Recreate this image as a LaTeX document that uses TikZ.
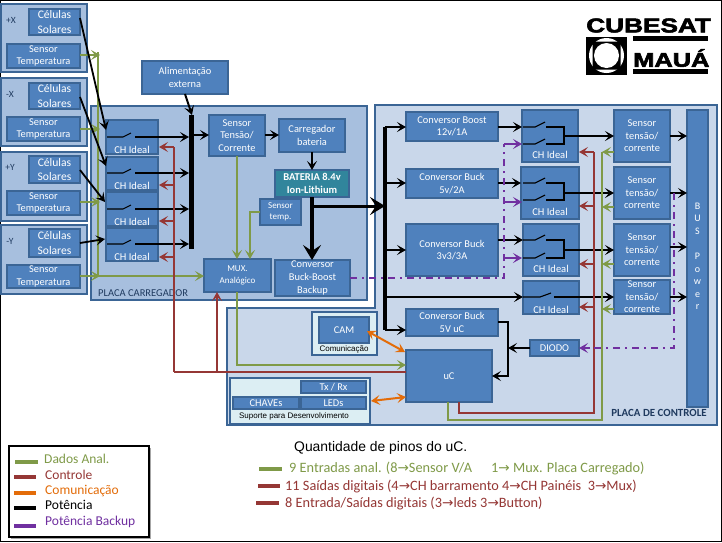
\documentclass[tikz,border=0pt]{standalone}
\usepackage{fontspec}
\setmainfont{Carlito}
\newfontfamily\arialf{Liberation Sans}
\newfontfamily\logof[FakeBold=2.5]{Liberation Sans Bold}
\newfontfamily\arrowf{DejaVu Sans}
\usetikzlibrary{arrows.meta}
\definecolor{boxfill}{HTML}{4F81BD}
\definecolor{boxedge}{HTML}{3B6595}
\definecolor{panelA}{HTML}{A7BFDE}
\definecolor{panelB}{HTML}{C9D7EA}
\definecolor{panelC}{HTML}{DCEEF3}
\definecolor{battfill}{HTML}{31859C}
\definecolor{gdata}{HTML}{7F9A48}
\definecolor{rctl}{HTML}{953735}
\definecolor{ocom}{HTML}{E36C09}
\definecolor{pback}{HTML}{7030A0}
\definecolor{darklab}{HTML}{1F3A5F}
\tikzset{
  pic frame/.style={x=1pt,y=-1pt},
  boxn/.style={draw=boxedge,fill=boxfill,line width=1.3pt,text=white,align=center,inner sep=0pt,outer sep=0pt,font=\fontsize{10.4}{12.6}\selectfont},
  solar/.style={boxn,font=\fontsize{11.6}{14.3}\selectfont},
  smallbox/.style={boxn,font=\fontsize{9}{11.5}\selectfont},
  batt/.style={boxn,fill=battfill,font=\fontsize{10.5}{12.8}\selectfont\bfseries},
  panA/.style={draw=boxedge,fill=panelA,line width=1.2pt},
  panB/.style={draw=boxedge,fill=panelB,line width=1.2pt},
  panC/.style={draw=boxedge,fill=panelC,line width=1.2pt,inner sep=0pt,outer sep=0pt},
  chlab/.style={text=white,inner sep=0pt,font=\fontsize{10.5}{12}\selectfont},
  darktxt/.style={text=darklab,inner sep=0pt},
  tiplab/.style={text=black,inner sep=0pt,font=\arialf\fontsize{8}{9}\selectfont},
  tip/.style={-{Stealth[length=9pt,width=10pt,inset=4pt]}},
  bitip/.style={{Stealth[length=9pt,width=10pt,inset=4pt]}-{Stealth[length=9pt,width=10pt,inset=4pt]}},
  pw/.style={black,line width=1.8pt},
  sw/.style={black,line width=1.1pt},
  gd/.style={gdata,line width=2pt},
  rc/.style={rctl,line width=2pt},
  comline/.style={ocom,line width=2pt},
  bk/.style={pback,line width=2pt,dash pattern=on 7pt off 5pt on 2pt off 5pt},
  legline/.style={line width=4pt},
  legtxt/.style={anchor=west,inner sep=0pt,font=\fontsize{13.5}{14}\selectfont},
  pintxt/.style={anchor=west,inner sep=0pt,font=\fontsize{14.3}{15}\selectfont},
}
% \bx[style]{name}{x1}{y1}{x2}{y2}{text}
\newcommand\bx[6][boxn]{\node[#1,minimum width={(#4-#2)*1pt},minimum height={(#5-#3)*1pt}] (#6) at ({(#2+#4)/2},{(#3+#5)/2})}
\newcommand\arr{{\arrowf\fontsize{13.6}{15}\selectfont →}}
\begin{document}
\begin{tikzpicture}[pic frame]
\useasboundingbox (0,0) rectangle (722,542);
\fill[white] (0,0) rectangle (722,542);
\draw[black,line width=1.3pt] (0.5,0.5) rectangle (721.5,541.5);

% panels
\draw[panA] (1,4) rectangle (87,72);
\draw[panA] (1,78) rectangle (87,146);
\draw[panA] (1,152) rectangle (87,221);
\draw[panA] (1,225) rectangle (87,294);
\draw[panB] (375,105) -- (717,105) -- (717,425) -- (227,425) -- (227,308) -- (375,308) -- cycle;
\draw[panA] (91,106) rectangle (367,300);

% left panel texts
\node[darktxt,font=\fontsize{9.5}{11}\selectfont] (lpx) at (11,20) {+X};
\node[darktxt,font=\fontsize{9.5}{11}\selectfont] (lmx) at (10,94) {-X};
\node[darktxt,font=\fontsize{9.5}{11}\selectfont] (lpy) at (10,167) {+Y};
\node[darktxt,font=\fontsize{9.5}{11}\selectfont] (lmy) at (10,241) {-Y};

% left panel boxes
\bx[solar]{29}{9}{80}{35}{solA} {Células\\Solares};
\bx{7}{44}{80}{68}{tmpA} {Sensor\\Temperatura};
\bx[solar]{29}{83}{80}{109}{solB} {Células\\Solares};
\bx{7}{117}{80}{141}{tmpB} {Sensor\\Temperatura};
\bx[solar]{29}{156}{80}{183}{solC} {Células\\Solares};
\bx{7}{191}{80}{215}{tmpC} {Sensor\\Temperatura};
\bx[solar]{29}{229}{80}{257}{solD} {Células\\Solares};
\bx{7}{265}{80}{288}{tmpD} {Sensor\\Temperatura};

\bx{142}{61}{228}{94}{ext} {Alimentação\\externa};

% charger board
\node[darktxt,anchor=west,font=\fontsize{10.5}{12}\selectfont] (lcarr) at (98,293) {PLACA CARREGADOR};
\bx{106}{120}{158}{154}{chA} {};
\bx{106}{157}{158}{190}{chB} {};
\bx{106}{192}{158}{226}{chC} {};
\bx{106}{228}{158}{261}{chD} {};
\node[chlab] (tchA) at (132,150) {CH Ideal};
\node[chlab] (tchB) at (132,186) {CH Ideal};
\node[chlab] (tchC) at (132,222) {CH Ideal};
\node[chlab] (tchD) at (132,257) {CH Ideal};
\bx{209}{115}{265}{156}{stc} {Sensor\\Tensão/\\Corrente};
\bx{279}{119}{345}{152}{carr} {Carregador\\bateria};
\bx[batt]{275}{170}{349}{197}{bat} {BATERIA 8.4v\\Ion-Lithium};
\bx[smallbox]{260}{199}{301}{225}{stmp} {Sensor\\temp.};
\bx[smallbox]{204}{259}{271}{292}{mux} {MUX.\\Analógico};
\bx{275}{260}{350}{296}{bbb} {Conversor\\Buck-Boost\\Backup};

% control board
\bx{406}{112}{498}{141}{cvA} {Conversor Boost\\12v/1A};
\bx{406}{169}{498}{198}{cvB} {Conversor Buck\\5v/2A};
\bx{406}{224}{498}{276}{cvC} {Conversor Buck\\3v3/3A};
\bx{406}{309}{498}{336}{cvD} {Conversor Buck\\5V uC};
\bx{522}{110}{578}{162}{rchA} {};
\bx{521}{167}{579}{219}{rchB} {};
\bx{523}{224}{579}{276}{rchC} {};
\bx{523}{281}{579}{314}{rchD} {};
\node[chlab] (trchA) at (550,155) {CH Ideal};
\node[chlab] (trchB) at (550,212) {CH Ideal};
\node[chlab] (trchC) at (551,269) {CH Ideal};
\node[chlab] (trchD) at (551,310) {CH Ideal};
\bx{614}{110}{670}{162}{snA} {Sensor\\tensão/\\corrente};
\bx{614}{167}{670}{219}{snB} {Sensor\\tensão/\\corrente};
\bx{614}{224}{670}{276}{snC} {Sensor\\tensão/\\corrente};
\bx{614}{280}{670}{314}{snD} {Sensor\\tensão/\\corrente};
\bx{687}{110}{708}{407}{bus} {};
\node[text=white,align=center,inner sep=0pt,anchor=north,font=\fontsize{10}{12.6}\selectfont] (tbus) at (697.5,202.5) {B\\U\\S\\[12.6pt]P\\o\\w\\e\\r};
\bx{530}{340}{579}{356}{dio} {DIODO};
\bx{406}{350}{492}{402}{uc} {uC};
\draw[panC] (312,312) rectangle (377,355);
\bx{319}{317}{369}{343}{cam} {CAM};
\node[tiplab] (tcom) at (344,349) {Comunicação};
\draw[panC] (230,378) rectangle (370,424);
\bx{301}{381}{366}{393}{txrx} {Tx / Rx};
\bx{233}{397}{299}{409}{chv} {CHAVEs};
\bx{301}{397}{366}{409}{led} {LEDs};
\node[tiplab] (tsup) at (294,416) {Suporte para Desenvolvimento};
\node[darktxt,font=\fontsize{10.9}{12}\selectfont\bfseries] (lctl) at (659,413) {PLACA DE CONTROLE};

% green data left
\draw[gd] (98,52) -- (98,276);
\draw[gd,tip] (tmpA.east |- 0,55) -- (100,55);
\draw[gd,tip] (tmpB.east |- 0,129) -- (100,129);
\draw[gd,tip] (tmpC.east |- 0,202) -- (100,202);
\draw[gd,tip] (tmpD.east |- 0,276) -- (100,276);
\draw[gd,tip] (98,276) -- (mux.west |- 0,276);

% solar to CH
\draw[pw,tip] (80,18) -- (chA.west |- 0,130);
\draw[pw,tip] (80,97) -- (chB.west |- 0,166);
\draw[pw,tip] (80,170) -- (105,202);
\draw[pw,tip] (80,243) -- (105,239);

% black switches left
\foreach \n/\y in {A/137,B/173,C/209,D/244}{
  \draw[sw] (107,\y) -- (123,\y) -- (131,{\y-4});
  \draw[pw,tip] (135,\y) -- (189,\y);
}
\draw[black,line width=5pt] (191,115) -- (191,249);
\draw[pw,tip,line width=2pt] (ext.south -| 185,0) -- (192,115);
\draw[pw,tip] (191,135) -- (stc.west |- 0,135);
\draw[pw,tip] (stc.east |- 0,135) -- (carr.west |- 0,135);
\draw[pw,tip] (carr.south -| 312,0) -- (bat.north -| 312,0);

% red left
\draw[rc] (174,147) -- (174,372);
\foreach \y in {147,185,221,257}{ \draw[rc,tip] (174,\y) -- (159,\y); }
\draw[rc] (174,372) -- (uc.west |- 0,372);
\draw[rc,tip] (217,372) -- (mux.south -| 217,0);

% green carregador
\draw[gd,tip] (stc.south -| 237,0) -- (mux.north -| 237,0);
\draw[gd,tip] (stmp.west |- 0,212) -- (250,212) -- (mux.north -| 250,0);
\draw[gd,tip] (mux.south -| 237,0) -- (237,365) -- (uc.west |- 0,365);

% thick battery
\draw[black,line width=3.5pt,-{Stealth[length=15pt,width=18pt,inset=6pt]}] (bat.south -| 312,0) -- (bbb.north -| 312,0);
\draw[black,line width=3pt,-{Stealth[length=15pt,width=18pt,inset=6pt]}] (312,206) -- (385,206);

% main bus on control board
\draw[black,line width=3.5pt] (385,127) -- (385,330);
\draw[pw,tip] (385,127) -- (cvA.west |- 0,127);
\draw[pw,tip] (385,183) -- (cvB.west |- 0,183);
\draw[pw,tip] (385,250) -- (cvC.west |- 0,250);
\draw[pw,tip] (385,297) -- (rchD.west |- 0,297);
\draw[pw,tip] (385,330) -- (cvD.west |- 0,330);
\draw[pw,tip] (cvA.east |- 0,127) -- (rchA.west |- 0,127);
\draw[pw,tip] (cvB.east |- 0,183) -- (rchB.west |- 0,183);
\draw[pw,tip] (cvC.east |- 0,240) -- (rchC.west |- 0,240);

% double switches
\foreach \a/\b/\o/\t in {127/144/136/snA,183/200/193/snB,240/258/250/snC}{
  \draw[sw] (523,\a) -- (535,\a) -- (545,{\a-5});
  \draw[sw] (546,\a) -- (564,\a) -- (564,\b) -- (546,\b);
  \draw[sw] (523,\b) -- (535,\b) -- (545,{\b-5});
  \draw[pw,tip] (564,\o) -- (\t.west |- 0,\o);
}
\draw[sw] (523,297) -- (540,297) -- (551,293);
\draw[pw,tip] (554,297) -- (snD.west |- 0,297);

% sensors to bus
\draw[pw,tip] (snA.east |- 0,136) -- (bus.west |- 0,136);
\draw[pw,tip] (snB.east |- 0,193) -- (bus.west |- 0,193);
\draw[pw,tip] (snC.east |- 0,247) -- (bus.west |- 0,247);
\draw[pw,tip] (snD.east |- 0,297) -- (bus.west |- 0,297);

% red right
\draw[rc] (594,152) -- (594,413) -- (459,413) -- (459,402);
\foreach \y in {152,206,264,307}{ \draw[rc,tip] (594,\y) -- (579,\y); }
% green right
\draw[gd] (602,152) -- (602,420) -- (448,420) -- (448,402);
\foreach \y in {152,207,264,309}{ \draw[gd,tip] (614,\y) -- (602,\y); }

% purple
\draw[bk] (bbb.east |- 0,278) -- (504,278) -- (504,144);
\foreach \y in {144,202,258}{ \draw[pback,line width=2pt,tip] (504,\y) -- (522,\y); }
\draw[bk] (674,193) -- (674,348) -- (590,348);
\draw[pback,line width=2pt,tip] (590,348) -- (dio.east |- 0,348);

% diode
\draw[pw,tip] (dio.west |- 0,348) -- (508,348);
\draw[pw,tip] (cvD.east |- 0,322) -- (508,322) -- (508,376) -- (uc.east |- 0,376);

% orange
\draw[comline,bitip] (367,331) -- (405,352);
\draw[comline,bitip] (371,401) -- (406,397);

% legend
\fill[black!35] (10.5,447.5) rectangle (150.5,538.5);
\draw[black,line width=1.3pt,fill=white] (9,446) rectangle (149,537);
\draw[gdata,legline] (15,462) -- (38,462);
\draw[rctl,legline] (14,477) -- (36,477);
\draw[ocom,legline] (14,493) -- (36,493);
\draw[black,legline] (14,508) -- (36,508);
\draw[pback,legline] (14,526) -- (36,526);
\node[legtxt,text=gdata] (lgA) at (44,459) {Dados Anal.};
\node[legtxt,text=rctl] (lgB) at (45,475) {Controle};
\node[legtxt,text=ocom] (lgC) at (45,491) {Comunicação};
\node[legtxt,text=black] (lgD) at (45,505) {Potência};
\node[legtxt,text=pback] (lgE) at (45,522) {Potência Backup};

% pins
\node[anchor=west,inner sep=0pt,text=black,font=\arialf\fontsize{13.9}{15}\selectfont] (qt) at (294,448) {Quantidade de pinos do uC.};
\draw[gdata,legline] (259,469) -- (282,469);
\draw[rctl,legline] (258,486) -- (280,486);
\draw[rctl,legline] (256,503) -- (279,503);
\node[pintxt,text=gdata] (pnA) at (289,468) {9 Entradas anal. (8\arr Sensor V/A};
\node[pintxt,text=gdata] (pnB) at (491,468) {1\arr\ Mux. Placa Carregado)};
\node[pintxt,text=rctl] (pnC) at (285,486) {11 Saídas digitais (4\arr CH barramento 4\arr CH Painéis\ \ 3\arr Mux)};
\node[pintxt,text=rctl] (pnD) at (285,503) {8 Entrada/Saídas digitais (3\arr leds 3\arr Button)};

% logo
\node[inner sep=0pt,anchor=west,xscale=1.31,font=\logof\fontsize{20}{20}\selectfont] (lgo1) at (586,25.5) {CUBESAT};
\node[inner sep=0pt,anchor=west,xscale=1.27,font=\logof\fontsize{20}{20}\selectfont] (lgo2) at (633,58) {MAUÁ};
\fill[black] (633,36) rectangle (708,41);
\fill[black] (633,69) rectangle (708,74);
\fill[black] (586,37) rectangle (627,75);
\fill[white] (606.5,55.5) circle (17.5);
\fill[black,rounded corners=3pt] (592.5,41.5) rectangle (620.5,69.5);
\fill[white] (606.5,55.5) circle (12.5);
\end{tikzpicture}
\end{document}
